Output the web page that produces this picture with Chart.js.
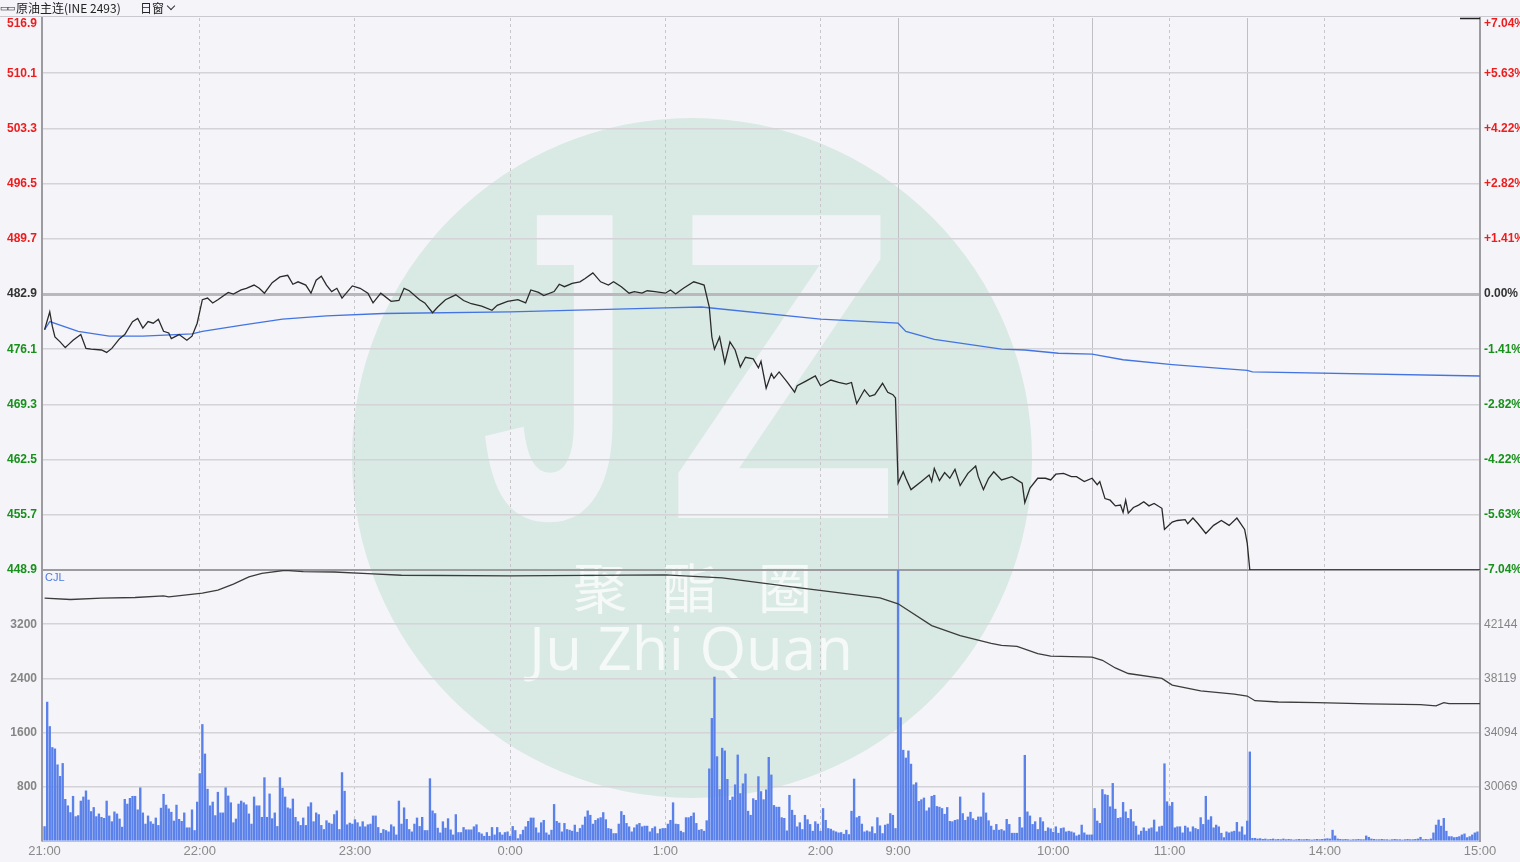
<!DOCTYPE html>
<html>
<head>
<meta charset="utf-8">
<title>原油主连(INE 2493)</title>
<script src="https://cdn.jsdelivr.net/npm/chart.js@4.4.1/dist/chart.umd.min.js"></script>
<style>
  html, body { margin: 0; padding: 0; background: #f4f4f9; overflow: hidden; }
  #wrap { position: relative; width: 1520px; height: 862px; }
  #chart { position: absolute; left: 0; top: 0; }
  .topbar { position: absolute; left: 0; top: 0; width: 1520px; height: 16px; border-bottom: 1px solid #c9c9cf;
            font: 12px "Noto Sans CJK SC", sans-serif; color: #222; line-height: 16px; white-space: nowrap; }
  .topbar .icon { position: absolute; left: 0; top: 0; font-size: 9px; letter-spacing: -2px; }
  .topbar .name { position: absolute; left: 16px; top: 0; }
  .topbar .win { position: absolute; left: 140px; top: 0; }
  .topbar .chev { position: absolute; left: 168px; top: 3px; width: 5px; height: 5px;
                  border-right: 1.5px solid #333; border-bottom: 1.5px solid #333; transform: rotate(45deg); }
  .cjl { position: absolute; left: 45px; top: 571px; font: 11px "Liberation Sans", sans-serif; color: #4d79e6; }
</style>
</head>
<body>
<div id="wrap">
  <canvas id="chart" width="1520" height="862"></canvas>
  <div class="topbar"><span class="icon">▭▭</span><span class="name">原油主连(INE 2493)</span><span class="win">日窗</span><span class="chev"></span></div>
  <div class="cjl">CJL</div>
</div>
<script>
// minutes counted from 21:00, trading time only (night 21:00-2:30, day 9:00-10:15, 10:30-11:30, 13:30-15:00)
const prevClose = 482.9;
const priceTicks = [448.9, 455.7, 462.5, 469.3, 476.1, 482.9, 489.7, 496.5, 503.3, 510.1, 516.9];
const volTicks = [0, 800, 1600, 2400, 3200, 4000];
const oiTicks = [30069, 34094, 38119, 42144];
const timeTicks = [0, 60, 120, 180, 240, 300, 330, 390, 435, 495, 555];
const timeLabels = ['21:00', '22:00', '23:00', '0:00', '1:00', '2:00', '9:00', '10:00', '11:00', '14:00', '15:00'];
const sessionBreaks = [330, 405, 465];

// [minute, price]
const pricePoints = [
  [0, 478.5], [2, 480.7], [3, 478.9], [4, 477.6], [6, 477.0], [8, 476.3], [9, 476.6], [11, 477.2], [14, 477.9],
  [16, 476.2], [18, 476.1], [22, 476.0], [24, 475.7], [26, 476.2], [29, 477.4], [31, 477.9], [34, 479.5],
  [36, 479.9], [38, 478.7], [40, 479.5], [42, 479.3], [44, 479.8], [46, 478.3], [48, 478.1], [49, 477.4],
  [52, 477.9], [55, 477.2], [57, 477.7], [59, 479.3], [61, 482.2], [63, 482.4], [65, 481.8], [67, 482.2],
  [71, 483.1], [73, 482.9], [76, 483.4], [78, 483.6], [81, 484.0], [83, 483.6], [85, 483.0], [88, 484.3],
  [91, 485.0], [94, 485.2], [96, 484.1], [98, 484.4], [101, 484.0], [103, 483.0], [105, 484.6], [107, 485.1],
  [109, 484.0], [111, 483.2], [113, 483.6], [115, 482.4], [119, 483.9], [122, 483.6], [125, 483.0], [127, 481.8],
  [130, 483.0], [134, 482.0], [137, 482.1], [139, 483.6], [141, 483.3], [145, 482.2], [147, 481.8], [150, 480.6],
  [152, 481.3], [155, 482.2], [159, 482.8], [162, 482.1], [165, 481.7], [169, 481.4], [173, 480.9], [175, 481.5],
  [179, 482.0], [183, 482.2], [186, 481.8], [188, 483.4], [191, 483.1], [193, 482.7], [197, 483.2], [199, 484.1],
  [201, 483.8], [204, 484.2], [207, 484.4], [209, 484.8], [212, 485.5], [215, 484.4], [218, 484.0], [220, 484.4],
  [223, 483.8], [226, 483.0], [228, 483.2], [231, 483.0], [233, 483.3], [236, 483.2], [240, 483.0], [242, 483.4],
  [244, 482.9], [247, 483.6], [251, 484.4], [253, 484.2], [255, 484.0], [257, 481.3], [258, 477.6], [259, 476.1],
  [261, 477.6], [263, 474.4], [265, 477.0], [267, 476.0], [269, 473.9], [271, 475.1], [274, 474.9], [276, 473.8],
  [277, 474.6], [279, 471.3], [281, 473.1], [282, 472.5], [284, 473.3], [287, 472.1], [290, 470.8], [291, 471.6],
  [294, 472.1], [298, 472.8], [300, 471.6], [304, 472.3], [307, 472.0], [310, 471.8], [312, 472.0], [314, 469.4],
  [317, 471.1], [319, 470.3], [321, 470.5], [324, 471.9], [326, 470.8], [328, 470.5], [329, 470.1], [330, 459.6],
  [332, 461.0], [333, 460.2], [335, 458.8], [339, 459.8], [342, 460.6], [343, 459.8], [344, 461.4], [346, 459.9],
  [348, 460.9], [350, 460.2], [352, 461.3], [354, 459.3], [357, 460.8], [360, 461.7], [361, 460.4], [363, 458.8],
  [365, 460.2], [367, 461.0], [370, 460.0], [372, 460.2], [374, 460.4], [378, 459.6], [379, 457.2], [381, 459.0],
  [384, 460.2], [387, 460.2], [389, 460.0], [391, 460.7], [394, 460.8], [397, 460.4], [399, 460.4], [402, 459.8],
  [405, 460.2], [407, 459.4], [408, 459.8], [410, 457.7], [412, 457.5], [414, 456.8], [416, 456.9], [417, 456.0],
  [418, 457.5], [419, 455.9], [421, 456.6], [423, 456.9], [425, 457.3], [427, 456.8], [429, 457.1], [432, 456.5],
  [433, 453.9], [436, 454.8], [438, 455.0], [441, 455.1], [442, 454.6], [444, 455.3], [446, 454.6], [449, 453.4],
  [452, 454.4], [455, 455.0], [458, 454.4], [461, 455.3], [464, 453.9], [465, 452.2], [466, 448.9], [555, 448.9]
];

// [minute, average price]
const avgPoints = [
  [0, 478.5], [2, 479.5], [13, 478.3], [25, 477.7], [38, 477.7], [57, 478.0], [61, 478.3], [77, 479.1],
  [92, 479.8], [109, 480.2], [131, 480.5], [180, 480.7], [240, 481.2], [254, 481.3], [300, 479.8], [330, 479.3],
  [333, 478.3], [344, 477.3], [370, 476.1], [379, 476.0], [392, 475.6], [405, 475.5], [417, 474.8], [436, 474.2],
  [456, 473.7], [465, 473.5], [467, 473.3], [555, 472.8]
];

// [minute, open interest]
const oiPoints = [
  [0, 44083], [10, 43980], [22, 44083], [35, 44127], [46, 44253], [48, 44179], [61, 44452], [67, 44673],
  [73, 45115], [79, 45653], [84, 45926], [93, 46147], [100, 46044], [112, 46022], [125, 45897], [138, 45778],
  [180, 45727], [240, 45800], [262, 45580], [292, 44840], [323, 44100], [330, 43660], [343, 42040], [354, 41300],
  [366, 40715], [370, 40567], [376, 40494], [384, 39956], [389, 39780], [405, 39706], [409, 39463], [414, 38895],
  [419, 38482], [432, 38114], [436, 37620], [447, 37200], [460, 36957], [465, 36810], [468, 36463], [477, 36367],
  [492, 36316], [512, 36220], [532, 36169], [538, 36073], [541, 36316], [543, 36243], [555, 36243]
];

// volume per minute, night session 21:00-2:30
const volNight = [
  213, 2050, 1690, 1380, 1360, 1125, 955, 1145, 615, 520,
  420, 660, 360, 375, 590, 650, 740, 605, 435, 495,
  360, 400, 350, 335, 590, 370, 285, 430, 400, 325,
  205, 615, 545, 630, 660, 660, 460, 785, 415, 250,
  370, 285, 250, 340, 230, 485, 690, 530, 475, 425,
  295, 530, 320, 290, 415, 195, 195, 460, 155, 575,
  995, 1720, 1285, 765, 520, 575, 375, 720, 415, 415,
  785, 665, 565, 270, 325, 545, 590, 565, 535, 400,
  250, 650, 520, 520, 350, 935, 350, 695, 330, 415,
  215, 935, 780, 650, 490, 475, 620, 350, 285, 230,
  340, 230, 505, 565, 285, 415, 390, 230, 170, 300,
  265, 250, 390, 445, 170, 1010, 735, 240, 265, 250,
  315, 270, 210, 285, 210, 240, 250, 370, 370, 200,
  115, 170, 155, 135, 240, 210, 90, 590, 250, 490,
  320, 170, 135, 250, 340, 215, 350, 155, 155, 920,
  445, 405, 190, 120, 285, 190, 330, 165, 90, 390,
  125, 125, 200, 165, 165, 165, 210, 240, 125, 105,
  70, 125, 70, 200, 90, 200, 125, 90, 125, 135,
  70, 215, 155, 35, 95,
  160, 210, 290, 340, 340, 195, 120, 270, 305, 120,
  90, 160, 540, 290, 265, 135, 260, 170, 160,
  145, 235, 130, 185, 235, 355, 445, 380, 250, 305,
  330, 345, 420, 315, 185, 175, 110, 110, 250,
  435, 380, 260, 210, 135, 195, 240, 260, 210, 220,
  220, 135, 185, 210, 110, 175, 185, 185, 250, 305,
  565, 250, 245, 145, 125, 345, 345, 365, 415, 260,
  160, 170, 145, 300, 1065, 1810, 2420, 1245, 760, 1370,
  1330, 910, 600, 650, 830, 1270, 700, 845, 990, 440,
  380, 625, 600, 950, 730, 610, 755, 1235, 975, 525,
  500, 500, 345, 335, 150, 675, 455, 380, 210,
  270, 170, 380, 315, 245, 145, 285, 250, 145, 480,
  305, 185, 175, 150, 135, 120, 125, 100, 160,
  95, 440, 915, 345, 365, 250, 135, 150, 135,
  210, 110, 345, 225, 110, 235, 250, 405, 380, 185
];

// volume per minute, day session 9:00-15:00
const volDay = [
  4000, 1820, 1340, 1225, 1330, 1135, 830, 860, 585, 610,
  635, 445, 490, 660, 675, 510, 500, 480, 395, 495,
  290, 285, 305, 315, 650, 405, 305, 355, 425, 330,
  305, 355, 355, 710, 415, 300, 220, 160, 245, 160,
  170, 150, 320, 245, 115, 115, 115, 350, 195, 1265,
  430, 370, 245, 285, 170, 345, 285, 145, 195, 180,
  130, 210, 115, 185, 195, 135, 145, 135, 120, 75,
  90, 235, 120, 90, 90, 90,
  480, 295, 260, 760, 685, 675, 505, 850, 470, 335,
  345, 570, 430, 335, 465, 285, 220, 90, 145, 195,
  145, 180, 195, 310, 135, 210, 220, 1140, 580, 515,
  570, 195, 210, 210, 120, 220, 195, 135, 210, 185,
  170, 345, 245, 660, 310, 360, 195, 235, 210, 115,
  50, 135, 120, 135, 145, 275, 135, 210, 90, 295,
  1315,
  40, 40, 30, 35, 25, 30, 20, 25, 30, 20,
  25, 20, 30, 20, 25, 20, 15, 20, 25, 20,
  20, 25, 20, 15, 20, 25, 20, 25, 30, 35,
  30, 160, 75, 30, 25, 20, 25, 20, 15, 20,
  20, 25, 20, 20, 75, 55, 30, 25, 20, 20,
  25, 20, 20, 15, 20, 25, 20, 20, 15, 20,
  25, 20, 20, 25, 30, 55, 20, 25, 20, 30,
  120, 235, 310, 220, 335, 145, 65, 65, 50, 55,
  65, 90, 105, 50, 65, 90, 120, 135
];

const volume = volNight.concat(volDay);
const xGrid = [...new Set(timeTicks.concat(sessionBreaks))].sort((a, b) => a - b);

const toXY = pts => pts.map(p => ({ x: p[0], y: p[1] }));
const tv = ctx => (ctx && ctx.tick) ? ctx.tick.value : NaN;
const tickColor = v => v > prevClose + 1e-9 ? '#f01c1c' : v < prevClose - 1e-9 ? '#17911a' : '#333333';
const pctText = v => {
  const p = (v - prevClose) / prevClose * 100;
  if (Math.abs(p) < 0.005) return '0.00%';
  return (p > 0 ? '+' : '') + p.toFixed(2) + '%';
};
const topPrice = priceTicks[priceTicks.length - 1];

const watermark = {
  id: 'watermark',
  beforeDraw(chart) {
    const c = chart.ctx;
    c.save();
    c.fillStyle = '#d9e9e3';
    c.beginPath();
    c.arc(692, 458, 340, 0, Math.PI * 2);
    c.fill();
    c.fillStyle = '#f2f3f7';
    c.textAlign = 'center';
    c.textBaseline = 'alphabetic';
    c.font = 'bold 440px "Liberation Sans"';
    c.fillText('J', 556, 518, 150);
    c.fillText('Z', 783, 518, 232);
    c.fillStyle = 'rgba(255,255,255,0.72)';
    c.textBaseline = 'middle';
    c.font = '54px "Noto Sans CJK SC"';
    c.fillText('聚', 600, 588);
    c.fillText('酯', 690, 588);
    c.fillText('圈', 785, 588);
    c.textBaseline = 'alphabetic';
    c.font = '60px "Open Sans"';
    c.fillText('Ju Zhi Quan', 691, 670, 340);
    c.restore();
  }
};

// the top tick labels sit just inside the plot instead of being centred on the edge
const topLabels = {
  id: 'topLabels',
  afterDraw(chart) {
    const c = chart.ctx;
    const ps = chart.scales.price, rs = chart.scales.pct;
    const y = ps.getPixelForValue(topPrice) + 6;
    c.save();
    c.font = 'bold 12px "Liberation Sans"';
    c.fillStyle = tickColor(topPrice);
    c.textBaseline = 'middle';
    c.textAlign = 'right';
    c.fillText(topPrice.toFixed(1), ps.right - 5, y);
    c.textAlign = 'left';
    c.fillText(pctText(topPrice), rs.left + 4, y);
    c.strokeStyle = '#222';
    c.lineWidth = 1.5;
    c.beginPath();
    c.moveTo(chart.chartArea.right - 20, chart.chartArea.top + 0.5);
    c.lineTo(chart.chartArea.right, chart.chartArea.top + 0.5);
    c.stroke();
    c.restore();
  }
};

Chart.defaults.font.family = '"Liberation Sans", Arial, sans-serif';

new Chart(document.getElementById('chart').getContext('2d'), {
  type: 'bar',
  data: {
    datasets: [
      { type: 'line', label: '价格', data: toXY(pricePoints), yAxisID: 'price', borderColor: '#2a2a2a', borderWidth: 1.3, pointRadius: 0, tension: 0 },
      { type: 'line', label: '均价', data: toXY(avgPoints), yAxisID: 'price', borderColor: '#4474e2', borderWidth: 1.3, pointRadius: 0, tension: 0 },
      { type: 'line', label: '持仓量', data: toXY(oiPoints), yAxisID: 'oi', borderColor: '#3c3c3c', borderWidth: 1.3, pointRadius: 0, tension: 0 },
      { type: 'bar', label: 'CJL', data: volume.map((v, i) => ({ x: i, y: v })), yAxisID: 'vol', backgroundColor: '#5a80ea', barThickness: 1.7 }
    ]
  },
  options: {
    responsive: false,
    animation: false,
    events: [],
    layout: { padding: { top: 18, left: 0, right: 0, bottom: 0 } },
    plugins: { legend: { display: false }, tooltip: { enabled: false } },
    scales: {
      x: {
        type: 'linear', position: 'bottom', min: -1, max: 555, offset: false,
        afterBuildTicks: s => { s.ticks = xGrid.map(v => ({ value: v })); },
        afterFit: s => { s.height = 21; },
        ticks: {
          autoSkip: false, maxRotation: 0, padding: 3, color: '#8a8a8a', font: { size: 13 },
          callback: v => { const i = timeTicks.indexOf(v); return i < 0 ? '' : timeLabels[i]; }
        },
        grid: {
          drawTicks: false, lineWidth: 1, offset: false,
          color: ctx => (tv(ctx) === 0 || tv(ctx) === 555) ? 'rgba(0,0,0,0)' :
            sessionBreaks.includes(tv(ctx)) ? '#bfbfc4' : '#c6c6cb'
        },
        border: {
          color: '#c2c2c7', width: 1,
          dash: ctx => (ctx && ctx.tick && !sessionBreaks.includes(ctx.tick.value)) ? [3, 3] : []
        }
      },
      price: {
        type: 'linear', position: 'left', stack: 'left', stackWeight: 552, weight: 2,
        min: 448.9, max: 516.9,
        afterBuildTicks: s => { s.ticks = priceTicks.map(v => ({ value: v })); },
        afterFit: s => { s.width = 42; },
        ticks: {
          padding: 5, font: { size: 12, weight: 'bold' },
          color: ctx => tickColor(tv(ctx)),
          callback: v => v === topPrice ? '' : v.toFixed(1)
        },
        grid: {
          drawTicks: false,
          color: ctx => tv(ctx) === prevClose ? '#b9b9bd' : tv(ctx) === 448.9 ? '#9c9ca0' :
            tv(ctx) === topPrice ? 'rgba(0,0,0,0)' : '#d3d3d8',
          lineWidth: ctx => tv(ctx) === prevClose ? 3 : tv(ctx) === 448.9 ? 2 : 1.5
        },
        border: { color: '#9c9ca0', width: 2 }
      },
      vol: {
        type: 'linear', position: 'left', stack: 'left', stackWeight: 271, weight: 1,
        min: 0, max: 4000,
        afterBuildTicks: s => { s.ticks = volTicks.map(v => ({ value: v })); },
        afterFit: s => { s.width = 42; },
        ticks: {
          padding: 5, color: '#858585', font: { size: 12, weight: 'bold' },
          callback: v => (v === 0 || v === 4000) ? '' : String(v)
        },
        grid: {
          drawTicks: false, lineWidth: 1.5,
          color: ctx => (tv(ctx) === 0 || tv(ctx) === 4000) ? 'rgba(0,0,0,0)' : '#d3d3d8'
        },
        border: { color: '#9c9ca0', width: 2 }
      },
      pct: {
        type: 'linear', position: 'right', stack: 'right', stackWeight: 552, weight: 1,
        min: 448.9, max: 516.9,
        afterBuildTicks: s => { s.ticks = priceTicks.map(v => ({ value: v })); },
        afterFit: s => { s.width = 40; },
        ticks: {
          padding: 4, font: { size: 12, weight: 'bold' },
          color: ctx => tickColor(tv(ctx)),
          callback: v => v === topPrice ? '' : pctText(v)
        },
        grid: { drawOnChartArea: false, drawTicks: false },
        border: { color: '#9c9ca0', width: 2 }
      },
      oi: {
        type: 'linear', position: 'right', stack: 'right', stackWeight: 271, weight: 2,
        min: 26044, max: 46169,
        afterBuildTicks: s => { s.ticks = oiTicks.map(v => ({ value: v })); },
        afterFit: s => { s.width = 40; },
        ticks: { padding: 4, color: '#858585', font: { size: 12 }, callback: v => String(v) },
        grid: { drawOnChartArea: false, drawTicks: false },
        border: { color: '#9c9ca0', width: 2 }
      }
    }
  },
  plugins: [watermark, topLabels]
});
</script>
</body>
</html>
